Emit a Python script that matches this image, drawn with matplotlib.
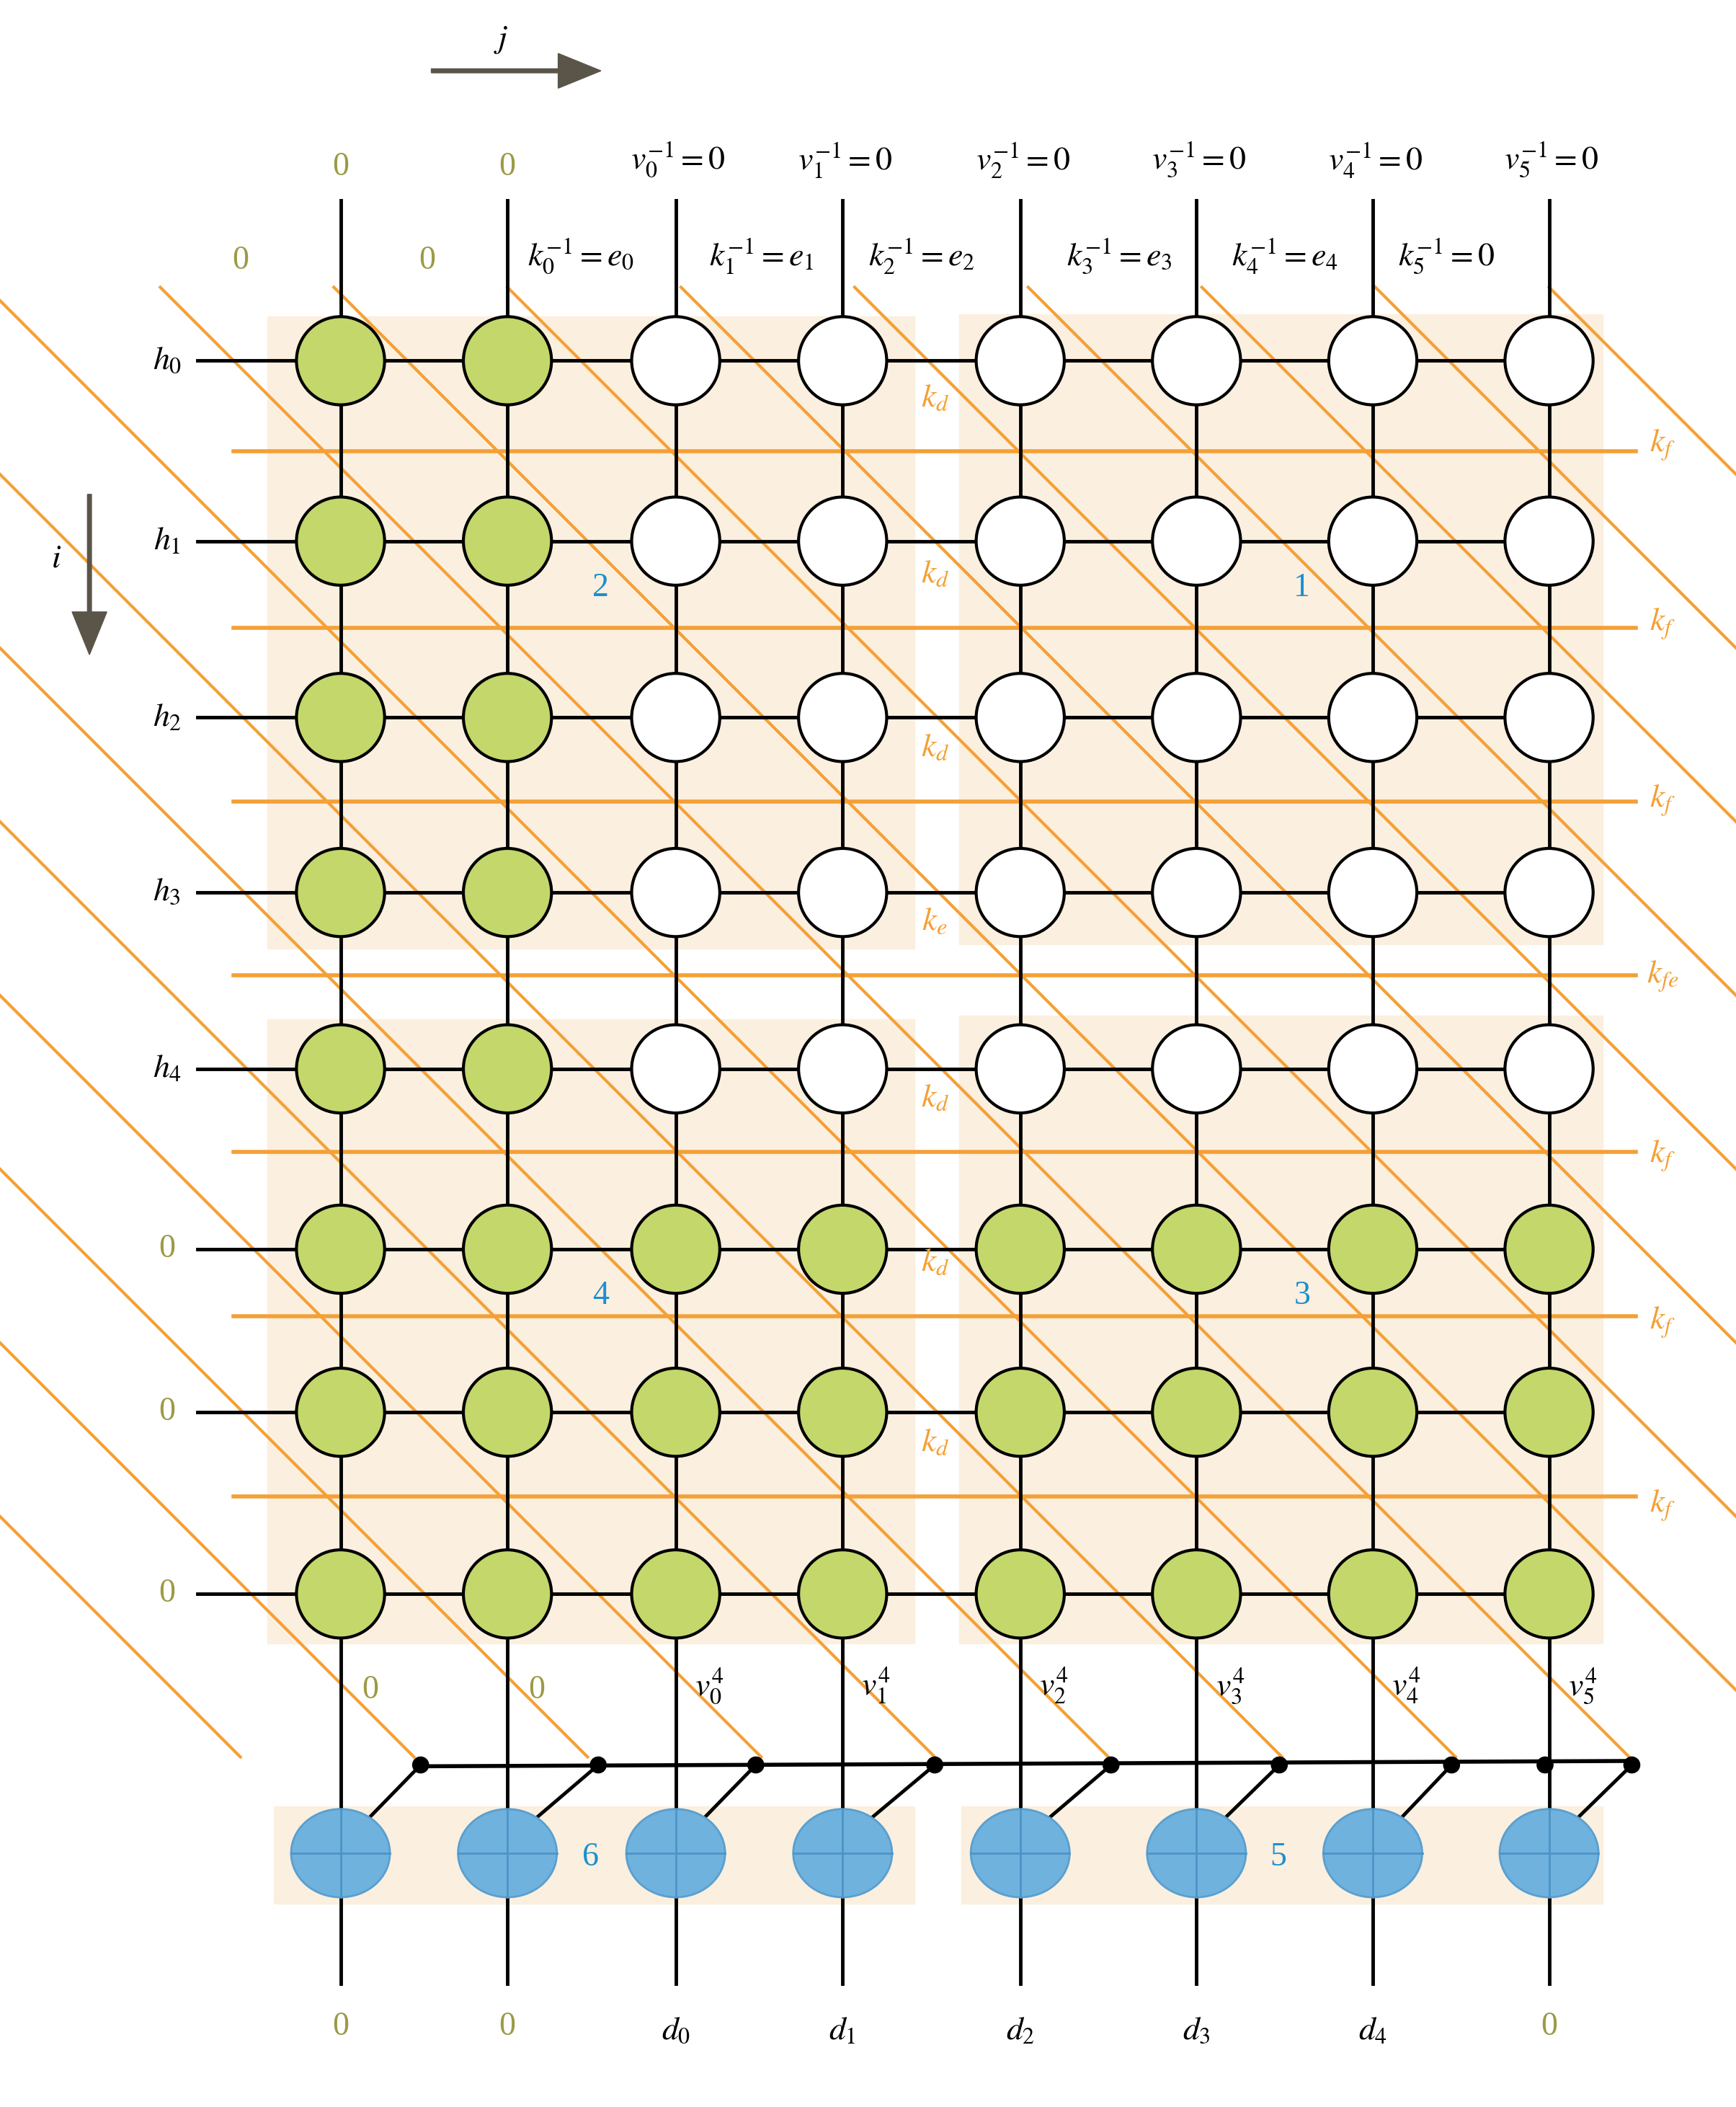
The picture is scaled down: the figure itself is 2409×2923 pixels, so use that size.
import matplotlib.pyplot as plt
from matplotlib.patches import Circle, Ellipse, Rectangle, FancyArrow
import numpy as np

plt.rcParams['mathtext.fontset'] = 'stix'
plt.rcParams['font.family'] = ['Liberation Serif', 'DejaVu Serif']

# grid geometry (display pixels)
col_x = [255, 380, 506, 631, 764, 896, 1028, 1160]
row_y = [270, 405, 537, 668, 800, 935, 1057, 1193]
green_rows = [[0, 1]] * 5 + [list(range(8))] * 3
left_labels = [r'$h_0$', r'$h_1$', r'$h_2$', r'$h_3$', r'$h_4$', '0', '0', '0']
top_v = [r'$v_{%d}^{-1}=0$' % k for k in range(6)]
top_k = [r'$k_0^{-1}=e_0$', r'$k_1^{-1}=e_1$', r'$k_2^{-1}=e_2$',
         r'$k_3^{-1}=e_3$', r'$k_4^{-1}=e_4$', r'$k_5^{-1}=0$']
bottom_v = ['0', '0'] + [r'$v_{%d}^4$' % k for k in range(6)]
bottom_d = ['0', '0', r'$d_0$', r'$d_1$', r'$d_2$', r'$d_3$', r'$d_4$', '0']
mid_k = [r'$k_d$', r'$k_d$', r'$k_d$', r'$k_e$', r'$k_d$', r'$k_d$', r'$k_d$']
right_k = [r'$k_f$', r'$k_f$', r'$k_f$', r'$k_{fe}$', r'$k_f$', r'$k_f$', r'$k_f$']
hline_y = [338, 470, 600, 730, 862, 985, 1120]
bus_dots = [315, 448, 566, 700, 832, 958, 1087, 1157, 1222]

GREEN = '#c3d76b'
ORANGE = '#f4a036'
OLIVE = '#9c9a45'
BLUE = '#1b8fd0'
BEIGE = '#fbefdf'
ADDER = '#6fb2de'
FS = 33

fig = plt.figure(figsize=(24.09, 29.23), dpi=100)
ax = fig.add_axes([0, 0, 1, 1])
ax.set_xlim(0, 1300)
ax.set_ylim(1577, 0)
ax.axis('off')

# background blocks
for (x0, y0, x1, y1) in [(200, 237, 685, 710), (718, 235, 1200, 707),
                         (200, 763, 685, 1230), (718, 760, 1200, 1230),
                         (205, 1352, 685, 1425), (720, 1352, 1200, 1425)]:
    ax.add_patch(Rectangle((x0, y0), x1 - x0, y1 - y0, color=BEIGE, zorder=0))

# orange horizontal lines and diagonals
for y in hline_y:
    ax.plot([175, 1225], [y, y], color=ORANGE, lw=4, zorder=1)
for c in np.arange(180 - 1100, 1250, 130):
    xs = np.array([c, c + 1100])
    ys = np.array([215, 1315])
    ax.plot(xs, ys, color=ORANGE, lw=3, zorder=1, clip_on=True,
            clip_path=Rectangle((175, 210), 1050, 940, transform=ax.transData))

# black grid
for x in col_x:
    ax.plot([x, x], [150, 1485], color='black', lw=3.5, zorder=2)
for y in row_y:
    ax.plot([148, col_x[-1]], [y, y], color='black', lw=3.5, zorder=2)

# nodes
for r, y in enumerate(row_y):
    for c, x in enumerate(col_x):
        fc = GREEN if c in green_rows[r] else 'white'
        ax.add_patch(Circle((x, y), 33, fc=fc, ec='black', lw=3, zorder=3))

# bus and adders
ax.plot([315, 1222], [1322, 1318], color='black', lw=4, zorder=2)
for i, x in enumerate(bus_dots):
    ax.add_patch(Circle((x, 1321), 6, color='black', zorder=4))
targets = [col_x[0], col_x[1], col_x[2], col_x[3], col_x[4], col_x[5], col_x[6], None, col_x[7]]
for x, t in zip(bus_dots, targets):
    if t is not None:
        ax.plot([x, t + 20], [1321, 1362], color='black', lw=3.5, zorder=2)
for x in col_x:
    ax.add_patch(Ellipse((x, 1387), 74, 66, fc=ADDER, ec='#5a9fcf', lw=2, zorder=3))
    ax.plot([x - 37, x + 37], [1387, 1387], color='#4d94c6', lw=2, zorder=4)
    ax.plot([x, x], [1354, 1420], color='#4d94c6', lw=2, zorder=4)

# arrows
ax.add_patch(FancyArrow(323, 53, 95, 0, width=3, head_width=26, head_length=32,
                        color='#5a5548', zorder=5))
ax.add_patch(FancyArrow(67, 370, 0, 88, width=3, head_width=26, head_length=32,
                        color='#5a5548', zorder=5))
ax.text(375, 30, r'$j$', fontsize=FS, ha='center', va='center')
ax.text(42, 418, r'$i$', fontsize=FS, ha='center', va='center')

# top labels
for c, x in enumerate(col_x):
    if c < 2:
        ax.text(x, 125, '0', fontsize=FS, color=OLIVE, ha='center', va='center')
    else:
        ax.text(x + 2, 120, top_v[c - 2], fontsize=FS, ha='center', va='center')
ax.text(180, 195, '0', fontsize=FS, color=OLIVE, ha='center', va='center')
ax.text(320, 195, '0', fontsize=FS, color=OLIVE, ha='center', va='center')
for k, x in enumerate([435, 570, 690, 838, 962, 1083]):
    ax.text(x, 192, top_k[k], fontsize=FS, ha='center', va='center')

# left labels
for r, y in enumerate(row_y):
    col = 'black' if r < 5 else OLIVE
    ax.text(125, y, left_labels[r], fontsize=FS, color=col, ha='center', va='center')

# kd / kf labels
for k, y in enumerate(hline_y):
    ax.text(700, y - 40, mid_k[k], fontsize=FS, color=ORANGE, ha='center', va='center')
    ax.text(1245, y - 5 + k * 2, right_k[k], fontsize=FS, color=ORANGE, ha='center', va='center')

# block numbers
for t, x, y in [('2', 450, 440), ('1', 975, 440), ('4', 450, 970), ('3', 975, 970),
                ('6', 442, 1390), ('5', 957, 1390)]:
    ax.text(x, y, t, fontsize=FS, color=BLUE, ha='center', va='center')

# bottom labels
for c, x in enumerate(col_x):
    if c < 2:
        ax.text(x + 22, 1265, '0', fontsize=FS, color=OLIVE, ha='center', va='center')
        ax.text(x, 1517, '0', fontsize=FS, color=OLIVE, ha='center', va='center')
    else:
        ax.text(x + 25, 1262, bottom_v[c], fontsize=FS, ha='center', va='center')
        if bottom_d[c] == '0':
            ax.text(x, 1517, '0', fontsize=FS, color=OLIVE, ha='center', va='center')
        else:
            ax.text(x, 1520, bottom_d[c], fontsize=FS, ha='center', va='center')

fig.savefig('out.png', dpi=100)
